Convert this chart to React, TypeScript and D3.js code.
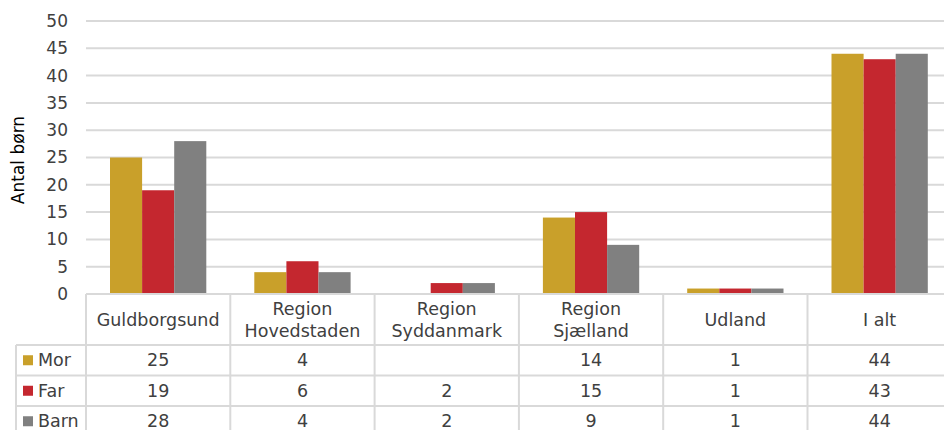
import React, { useEffect } from 'react';
import * as d3 from 'd3';

// categories (header lines) and series values
const categories = [
  ['Guldborgsund'],
  ['Region', 'Hovedstaden'],
  ['Region', 'Syddanmark'],
  ['Region', 'Sjælland'],
  ['Udland'],
  ['I alt'],
];
const seriesNames = ['Mor', 'Far', 'Barn'];
const mor = [25, 4, null, 14, 1, 44];
const far = [19, 6, 2, 15, 1, 43];
const barn = [28, 4, 2, 9, 1, 44];
const yTicks = [0, 5, 10, 15, 20, 25, 30, 35, 40, 45, 50];

const colors = ['#C9A02A', '#C4272F', '#808080'];
const grid = '#D9D9D9';
const textColor = '#404040';
const font = 'DejaVu Sans, Verdana, sans-serif';
const fs = 17.5;

const App = () => {
  useEffect(() => {
    document.body.style.margin = '0';
  }, []);

  const width = 944;
  const height = 430;
  const left = 86;
  const top = 21;
  const axisY = 294;
  const headerBottom = 345;
  const rowH = 30.5;
  const legendLeft = 16;

  const series = [mor, far, barn];
  const keys = categories.map((c) => c.join(' '));

  // last column runs past the right edge, as in the cropped original
  const x = d3.scaleBand<string>().domain(keys).range([left, left + 6 * 144.3]);
  // 24px free at each side of a group of three bars
  const xInner = d3
    .scaleBand<number>()
    .domain([0, 1, 2])
    .range([24, x.bandwidth() - 24]);
  const y = d3.scaleLinear().domain([0, 50]).range([axisY, top]);

  const rowLines = [0, 1, 2, 3].map((i) => headerBottom + i * rowH);

  return (
    <svg width={width} height={height} style={{ display: 'block' }} fontFamily={font}>
      {/* gridlines */}
      {yTicks.filter((t) => t > 0).map((t) => (
        <line key={t} x1={left} x2={width} y1={y(t)} y2={y(t)} stroke={grid} strokeWidth={2} />
      ))}
      {/* y tick labels */}
      {yTicks.map((t) => (
        <text key={t} x={68} y={y(t)} dy="0.35em" textAnchor="end" fontSize={17} fill={textColor}>
          {t}
        </text>
      ))}
      <text
        transform={`translate(24,160) rotate(-90)`}
        textAnchor="middle"
        fontSize={17}
        fill="#000"
      >
        Antal børn
      </text>
      {/* bars */}
      {series.map((vals, s) =>
        vals.map((v, i) =>
          v == null ? null : (
            <rect
              key={`${s}-${i}`}
              x={(x(keys[i]) as number) + (xInner(s) as number)}
              y={y(v)}
              width={xInner.bandwidth()}
              height={axisY - y(v)}
              fill={colors[s]}
            />
          )
        )
      )}
      {/* data table lines */}
      <line x1={left} x2={width} y1={axisY} y2={axisY} stroke={grid} strokeWidth={2} />
      {rowLines.map((ly, i) => (
        <line key={i} x1={legendLeft} x2={width} y1={ly} y2={ly} stroke={grid} strokeWidth={2} />
      ))}
      <line x1={legendLeft} x2={legendLeft} y1={headerBottom} y2={height} stroke={grid} strokeWidth={2} />
      {keys.map((k) => (
        <line key={k} x1={x(k)} x2={x(k)} y1={axisY} y2={height} stroke={grid} strokeWidth={2} />
      ))}
      {/* header labels */}
      {categories.map((lines, i) => {
        const cx = (x(keys[i]) as number) + x.bandwidth() / 2;
        const cy = (axisY + headerBottom) / 2;
        return lines.map((ln, j) => (
          <text
            key={`${i}-${j}`}
            x={cx}
            y={cy + (j - (lines.length - 1) / 2) * 22}
            dy="0.35em"
            textAnchor="middle"
            fontSize={fs}
            fill={textColor}
          >
            {ln}
          </text>
        ));
      })}
      {/* legend keys and values */}
      {series.map((vals, s) => {
        const cy = headerBottom + (s + 0.5) * rowH;
        return (
          <g key={s}>
            <rect x={23} y={cy - 5} width={10} height={10} fill={colors[s]} />
            <text x={38} y={cy} dy="0.35em" fontSize={fs} fill={textColor}>
              {seriesNames[s]}
            </text>
            {vals.map((v, i) => (
              <text
                key={i}
                x={(x(keys[i]) as number) + x.bandwidth() / 2}
                y={cy}
                dy="0.35em"
                textAnchor="middle"
                fontSize={fs}
                fill={textColor}
              >
                {v == null ? '' : v}
              </text>
            ))}
          </g>
        );
      })}
    </svg>
  );
};

export default App;
